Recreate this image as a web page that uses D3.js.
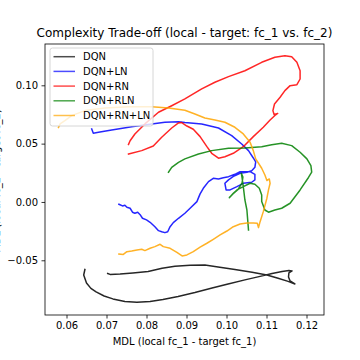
<!DOCTYPE html>
<html>
<head>
<meta charset="utf-8">
<script src="https://cdn.jsdelivr.net/npm/d3@7"></script>
<style>
  body { margin: 0; background: #fff; }
  svg { font-family: "DejaVu Sans", sans-serif; }
</style>
</head>
<body>
<svg id="chart"></svg>
<script>
// series values (x: MDL fc_1, y: MDL fc_2)
const seriesNames = ["DQN", "DQN+LN", "DQN+RN", "DQN+RLN", "DQN+RN+LN"];
const seriesColors = ["#000000", "#0000ff", "#ff0000", "#008000", "#ffa500"];

const dqnX = [0.0646, 0.0643, 0.0650, 0.0661, 0.0674, 0.0694, 0.0716, 0.0746, 0.0776, 0.0809, 0.0841, 0.0879, 0.0921, 0.0964, 0.1004, 0.1046, 0.1084, 0.1114, 0.1139, 0.1156, 0.1164, 0.1156, 0.1155, 0.1159, 0.1171, 0.1154, 0.1129, 0.1101, 0.1064, 0.1021, 0.0979, 0.0946, 0.0909, 0.0871, 0.0839, 0.0804, 0.0766, 0.0734, 0.0709, 0.0703];
const dqnY = [-0.0579, -0.0626, -0.0694, -0.0741, -0.0771, -0.0806, -0.0831, -0.0853, -0.0860, -0.0853, -0.0836, -0.0810, -0.0776, -0.0737, -0.0703, -0.0668, -0.0638, -0.0613, -0.0596, -0.0587, -0.0591, -0.0608, -0.0643, -0.0677, -0.0703, -0.0681, -0.0654, -0.0626, -0.0602, -0.0578, -0.0557, -0.0540, -0.0542, -0.0551, -0.0568, -0.0596, -0.0608, -0.0617, -0.0621, -0.0613];

const lnX = [0.0731, 0.0740, 0.0746, 0.0751, 0.0759, 0.0765, 0.0771, 0.0778, 0.0784, 0.0790, 0.0800, 0.0809, 0.0821, 0.0830, 0.0838, 0.0846, 0.0853, 0.0859, 0.0867, 0.0880, 0.0896, 0.0909, 0.0926, 0.0934, 0.0942, 0.0955, 0.0967, 0.0980, 0.0992, 0.1005, 0.1021, 0.1034, 0.1059, 0.1071, 0.1071, 0.1063, 0.1042, 0.1026, 0.1009, 0.0999, 0.0996, 0.1005, 0.1019, 0.1034, 0.1051, 0.1063, 0.1071, 0.1073, 0.1067, 0.1055, 0.1038, 0.1013, 0.0980, 0.0938, 0.0896, 0.0880, 0.0846, 0.0813, 0.0763, 0.0713, 0.0680, 0.0667, 0.0663];
const lnY = [-0.0020, -0.0034, -0.0028, -0.0045, -0.0054, -0.0088, -0.0097, -0.0088, -0.0109, -0.0140, -0.0154, -0.0174, -0.0212, -0.0246, -0.0255, -0.0263, -0.0255, -0.0212, -0.0177, -0.0140, -0.0097, -0.0054, 0.0003, 0.0069, 0.0117, 0.0174, 0.0203, 0.0197, 0.0208, 0.0217, 0.0237, 0.0260, 0.0260, 0.0237, 0.0189, 0.0169, 0.0160, 0.0131, 0.0103, 0.0103, 0.0160, 0.0189, 0.0223, 0.0246, 0.0255, 0.0268, 0.0297, 0.0343, 0.0377, 0.0440, 0.0497, 0.0568, 0.0634, 0.0669, 0.0681, 0.0688, 0.0683, 0.0669, 0.0645, 0.0617, 0.0597, 0.0589, 0.0626];

const rnX = [0.0755, 0.0788, 0.0817, 0.0838, 0.0863, 0.0880, 0.0888, 0.0901, 0.0917, 0.0934, 0.0951, 0.0963, 0.0980, 0.0996, 0.1017, 0.1042, 0.1067, 0.1092, 0.1109, 0.1121, 0.1128, 0.1119, 0.1116, 0.1120, 0.1134, 0.1146, 0.1159, 0.1176, 0.1184, 0.1184, 0.1176, 0.1163, 0.1146, 0.1121, 0.1088, 0.1046, 0.1005, 0.0971, 0.0938, 0.0896, 0.0863, 0.0830, 0.0796, 0.0771, 0.0759, 0.0755];
const rnY = [0.0411, 0.0440, 0.0480, 0.0555, 0.0634, 0.0677, 0.0681, 0.0651, 0.0623, 0.0560, 0.0474, 0.0417, 0.0375, 0.0388, 0.0417, 0.0474, 0.0560, 0.0640, 0.0703, 0.0741, 0.0759, 0.0750, 0.0783, 0.0840, 0.0897, 0.0954, 0.0997, 0.1005, 0.1054, 0.1125, 0.1197, 0.1245, 0.1254, 0.1240, 0.1197, 0.1125, 0.1074, 0.1026, 0.0969, 0.0883, 0.0825, 0.0769, 0.0669, 0.0583, 0.0525, 0.0493];

const rlnX = [0.0855, 0.0863, 0.0880, 0.0896, 0.0930, 0.0963, 0.1005, 0.1046, 0.1088, 0.1113, 0.1138, 0.1163, 0.1184, 0.1201, 0.1211, 0.1213, 0.1205, 0.1184, 0.1159, 0.1138, 0.1121, 0.1105, 0.1096, 0.1088, 0.1088, 0.1082, 0.1071, 0.1059, 0.1042, 0.1026, 0.1017, 0.1007, 0.1016, 0.1029, 0.1039, 0.1041, 0.1037, 0.1039, 0.1043, 0.1046, 0.1051, 0.1055];
const rlnY = [0.0255, 0.0297, 0.0340, 0.0369, 0.0411, 0.0440, 0.0460, 0.0463, 0.0474, 0.0491, 0.0503, 0.0483, 0.0426, 0.0369, 0.0311, 0.0255, 0.0210, 0.0103, -0.0011, -0.0054, -0.0069, -0.0088, -0.0069, 0.0003, 0.0060, 0.0117, 0.0152, 0.0160, 0.0131, 0.0103, 0.0075, 0.0037, 0.0069, 0.0107, 0.0163, 0.0214, 0.0246, 0.0206, 0.0103, 0.0017, -0.0069, -0.0240];

const rnlnX = [0.0731, 0.0742, 0.0751, 0.0763, 0.0776, 0.0788, 0.0796, 0.0809, 0.0821, 0.0834, 0.0842, 0.0859, 0.0876, 0.0889, 0.0901, 0.0917, 0.0934, 0.0951, 0.0967, 0.0984, 0.1001, 0.1017, 0.1034, 0.1051, 0.1067, 0.1077, 0.1080, 0.1084, 0.1092, 0.1101, 0.1105, 0.1109, 0.1107, 0.1101, 0.1096, 0.1088, 0.1080, 0.1073, 0.1067, 0.1059, 0.1042, 0.1021, 0.0996, 0.0971, 0.0946, 0.0921, 0.0896, 0.0855, 0.0813, 0.0755, 0.0696, 0.0646, 0.0613, 0.0596, 0.0584, 0.0580];
const rnlnY = [-0.0446, -0.0450, -0.0426, -0.0420, -0.0411, -0.0405, -0.0417, -0.0397, -0.0383, -0.0363, -0.0383, -0.0397, -0.0433, -0.0463, -0.0454, -0.0426, -0.0388, -0.0354, -0.0320, -0.0283, -0.0249, -0.0212, -0.0189, -0.0180, -0.0180, -0.0183, -0.0220, -0.0169, -0.0083, 0.0032, 0.0103, 0.0160, 0.0197, 0.0184, 0.0231, 0.0289, 0.0332, 0.0369, 0.0440, 0.0512, 0.0583, 0.0640, 0.0683, 0.0703, 0.0720, 0.0754, 0.0786, 0.0806, 0.0817, 0.0817, 0.0806, 0.0783, 0.0740, 0.0697, 0.0669, 0.0639];

const xTicks = [0.06, 0.07, 0.08, 0.09, 0.10, 0.11, 0.12];
const yTicks = [-0.05, 0.00, 0.05, 0.10];

const allX = [dqnX, lnX, rnX, rlnX, rnlnX];
const allY = [dqnY, lnY, rnY, rlnY, rnlnY];

const width = 360, height = 360;
const margin = {top: 44, right: 36, bottom: 45, left: 45};
const w = width - margin.left - margin.right;
const h = height - margin.top - margin.bottom;

const svg = d3.select("#chart").attr("width", width).attr("height", height);

const x = d3.scaleLinear().domain([0.054625, 0.124375]).range([0, w]);
const y = d3.scaleLinear().domain([-0.0969, 0.1354]).range([h, 0]);

const g = svg.append("g").attr("transform", `translate(${margin.left},${margin.top})`);

g.append("clipPath").attr("id", "clip")
  .append("rect").attr("width", w).attr("height", h);

const fmt = d => d3.format(".2f")(d).replace("-", "\u2212");

const xAxis = g.append("g")
  .attr("transform", `translate(0,${h})`)
  .call(d3.axisBottom(x).tickValues(xTicks).tickFormat(fmt).tickSize(3.5).tickPadding(3.5).tickSizeOuter(0));
const yAxis = g.append("g")
  .call(d3.axisLeft(y).tickValues(yTicks).tickFormat(fmt).tickSize(3.5).tickPadding(3.5).tickSizeOuter(0));

[xAxis, yAxis].forEach(a => {
  a.select(".domain").remove();
  a.selectAll("line").attr("stroke", "#000").attr("stroke-width", 0.8);
  a.selectAll("text").attr("font-size", 10).attr("fill", "#000")
    .attr("font-family", "DejaVu Sans, sans-serif");
});

const line = d3.line().x(d => x(d[0])).y(d => y(d[1]));

const lines = g.append("g").attr("clip-path", "url(#clip)");
seriesNames.forEach((name, i) => {
  const pts = allX[i].map((v, j) => [v, allY[i][j]]);
  lines.append("path")
    .datum(pts)
    .attr("d", line)
    .attr("fill", "none")
    .attr("stroke", seriesColors[i])
    .attr("stroke-opacity", 0.85)
    .attr("stroke-width", 1.5)
    .attr("stroke-linejoin", "round")
    .attr("stroke-linecap", "square");
});

// frame
g.append("rect")
  .attr("width", w).attr("height", h)
  .attr("fill", "none").attr("stroke", "#000").attr("stroke-width", 0.8);

// legend
const lg = g.append("g").attr("transform", "translate(5,4)");
lg.append("rect")
  .attr("width", 103).attr("height", 78).attr("rx", 2.5)
  .attr("fill", "#fff").attr("fill-opacity", 0.8)
  .attr("stroke", "#ccc").attr("stroke-width", 0.8);
seriesNames.forEach((name, i) => {
  const yy = 8.7 + i * 14.7;
  lg.append("line")
    .attr("x1", 3.5).attr("x2", 25).attr("y1", yy).attr("y2", yy)
    .attr("stroke", seriesColors[i]).attr("stroke-opacity", 0.7).attr("stroke-width", 1.5);
  lg.append("text")
    .attr("x", 33).attr("y", yy).attr("dy", "0.35em")
    .attr("font-size", 10).attr("fill", "#000")
    .text(name);
});

// title and axis labels
svg.append("text")
  .attr("x", margin.left + w / 2).attr("y", 37)
  .attr("text-anchor", "middle").attr("font-size", 12)
  .text("Complexity Trade-off (local - target: fc_1 vs. fc_2)");

svg.append("text")
  .attr("x", margin.left + w / 2).attr("y", 345)
  .attr("text-anchor", "middle").attr("font-size", 10)
  .text("MDL (local fc_1 - target fc_1)");

// y label sits mostly outside the page on the left, as in the source figure
svg.append("text")
  .attr("transform", `translate(-0.5,${margin.top + h / 2 + 1.5}) rotate(-90)`)
  .attr("text-anchor", "middle").attr("font-size", 10)
  .text("MDL (local fc_2 - target fc_2)");
</script>
</body>
</html>
